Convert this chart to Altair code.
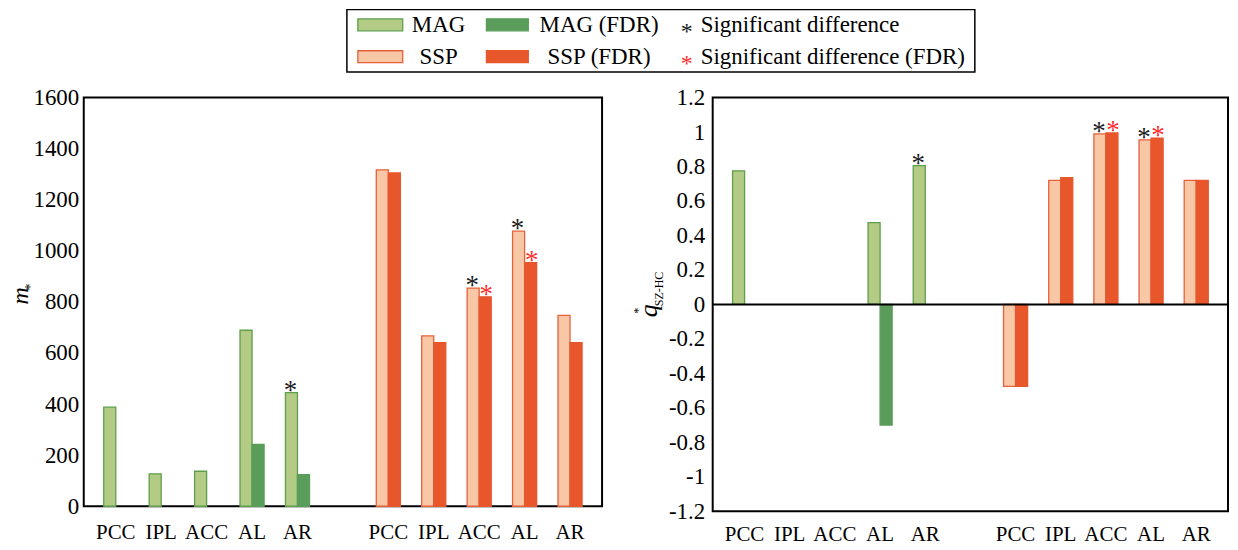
import altair as alt
import pandas as pd

# ---------------- data ----------------
cats = ["PCC", "IPL", "ACC", "AL", "AR"]

# left panel: m*
m_mag = [388, 127, 137, 689, 445]
m_mag_fdr = [0, 0, 0, 242, 124]
m_ssp = [1317, 667, 854, 1077, 747]
m_ssp_fdr = [1305, 641, 820, 954, 641]
m_sig_mag = [0, 0, 0, 0, 1]
m_sig_ssp = [0, 0, 1, 1, 0]
m_fdr_mag = [0, 0, 0, 0, 0]
m_fdr_ssp = [0, 0, 1, 1, 0]

# right panel: q*_SZ-HC
q_mag = [0.775, 0, 0, 0.475, 0.805]
q_mag_fdr = [0, 0, 0, -0.70, 0]
q_ssp = [-0.475, 0.72, 0.99, 0.955, 0.72]
q_ssp_fdr = [-0.475, 0.735, 0.995, 0.965, 0.72]
q_sig_mag = [0, 0, 0, 0, 1]
q_sig_ssp = [0, 0, 1, 1, 0]
q_fdr_mag = [0, 0, 0, 0, 0]
q_fdr_ssp = [0, 0, 1, 1, 0]

left_ticks = [0, 200, 400, 600, 800, 1000, 1200, 1400, 1600]
right_ticks = [-1.2, -1.0, -0.8, -0.6, -0.4, -0.2, 0.0, 0.2, 0.4, 0.6, 0.8, 1.0, 1.2]

legend_series = ["MAG", "SSP"]
legend_fdr = ["MAG (FDR)", "SSP  (FDR)"]
legend_sig = ["Significant difference", "Significant difference (FDR)"]

# ---------------- style ----------------
FONT = "Liberation Serif"
MAG_FILL, MAG_EDGE, MAG_DARK = "#b3cb85", "#5d9f4c", "#5a9d5a"
SSP_FILL, SSP_EDGE, SSP_DARK = "#f7c7a6", "#e8603a", "#e8572c"
BLACK, RED = "#1a1a1a", "#ff2e2e"

series_domain = ["MAG", "MAG (FDR)", "SSP", "SSP (FDR)"]
fill_range = [MAG_FILL, MAG_DARK, SSP_FILL, SSP_DARK]
stroke_range = [MAG_EDGE, MAG_DARK, SSP_EDGE, SSP_DARK]

GAP = " "
x_domain = cats + [GAP] + [c + " " for c in cats]

LW, LH = 520, 410
RW, RH = 517, 415
HSPACE = 111


def build(mag, mag_fdr, ssp, ssp_fdr, sig_mag, sig_ssp, fdr_mag, fdr_ssp):
    bars, stars = [], []
    groups = [("MAG", "", mag, mag_fdr, sig_mag, fdr_mag),
              ("SSP", " ", ssp, ssp_fdr, sig_ssp, fdr_ssp)]
    for name, suffix, base, fdr, sig, sigf in groups:
        for i, c in enumerate(cats):
            key = c + suffix
            if base[i] != 0:
                bars.append({"key": key, "kind": "base", "series": name, "value": base[i]})
            if fdr[i] != 0:
                bars.append({"key": key, "kind": "FDR", "series": name + " (FDR)", "value": fdr[i]})
            if sig[i]:
                stars.append({"key": key, "kind": "base", "value": base[i], "col": BLACK})
            if sigf[i]:
                stars.append({"key": key, "kind": "FDR", "value": fdr[i], "col": RED})
    return pd.DataFrame(bars), pd.DataFrame(stars)


def encodings(domain, ticks, xpad, ypad):
    x = alt.X("key:N",
              scale=alt.Scale(domain=x_domain, paddingInner=0.47, paddingOuter=0.44),
              axis=alt.Axis(title=None, labelAngle=0, labelFontSize=21, labelPadding=xpad,
                            ticks=False, domain=False, labelFont=FONT, labelColor="black"))
    xo = alt.XOffset("kind:N", scale=alt.Scale(domain=["base", "FDR"], paddingInner=0, paddingOuter=0))
    y = alt.Y("value:Q",
              scale=alt.Scale(domain=domain, nice=False, zero=True),
              axis=alt.Axis(title=None, values=ticks, labelExpr="datum.value + ''",
                            labelFontSize=23, labelPadding=ypad, ticks=False, domain=False,
                            grid=False, labelFont=FONT, labelColor="black",
                            labelOverlap=False, labelBound=False, labelSeparation=0))
    return x, xo, y


def panel(bars, stars, domain, ticks, xpad, ypad, zero_line=False):
    x, xo, y = encodings(domain, ticks, xpad, ypad)
    layers = [alt.Chart(bars).mark_bar(strokeWidth=1.3).encode(
        x=x, xOffset=xo, y=y,
        fill=alt.Fill("series:N", scale=alt.Scale(domain=series_domain, range=fill_range), legend=None),
        stroke=alt.Stroke("series:N", scale=alt.Scale(domain=series_domain, range=stroke_range), legend=None),
    )]
    if zero_line:
        layers.append(alt.Chart(pd.DataFrame({"value": [0]})).mark_rule(color="black", strokeWidth=2).encode(y=y))
    for kind, shift in (("base", -1), ("FDR", 1)):
        layers.append(
            alt.Chart(stars).transform_filter(alt.datum.kind == kind)
            .mark_text(text="*", fontSize=27, baseline="alphabetic", dy=6, dx=shift, font=FONT)
            .encode(x=x, xOffset=xo, y=y, color=alt.Color("col:N", scale=None))
        )
    return layers


dummy = pd.DataFrame({"d": [0]})


def label(txt, px, py, size, italic=False):
    return alt.Chart(dummy).mark_text(
        text=txt, fontSize=size, font=FONT, angle=270, align="center", baseline="middle",
        fontStyle="italic" if italic else "normal", color="black"
    ).encode(x=alt.value(px), y=alt.value(py))


# ---------------- left panel ----------------
lb, ls = build(m_mag, m_mag_fdr, m_ssp, m_ssp_fdr, m_sig_mag, m_sig_ssp, m_fdr_mag, m_fdr_ssp)
left = alt.layer(
    *panel(lb, ls, [0, 1600], left_ticks, 15, 5),
    label("m", -63, 199, 24, italic=True),
    label("*", -53, 190, 14),
).properties(width=LW, height=LH, view=alt.ViewBackground(stroke="black", strokeWidth=2))

# ---------------- right panel ----------------
rb, rs = build(q_mag, q_mag_fdr, q_ssp, q_ssp_fdr, q_sig_mag, q_sig_ssp, q_fdr_mag, q_fdr_ssp)
right = alt.layer(
    *panel(rb, rs, [-1.2, 1.2], right_ticks, 12, 8, zero_line=True),
    label("q", -64, 214, 26, italic=True),
    label("SZ-HC", -54, 192, 12),
    label("*", -75, 214, 12),
).properties(width=RW, height=RH, view=alt.ViewBackground(stroke="black", strokeWidth=2))

# ---------------- legend ----------------
LEG_W = LW + HSPACE + RW
LEG_H = 64
row_y = [16, 48]
sw_rows, txt_rows, star_rows = [], [], []
light = [(MAG_FILL, MAG_EDGE), (SSP_FILL, SSP_EDGE)]
dark = [MAG_DARK, SSP_DARK]
star_cols = [BLACK, RED]
for r in range(2):
    yc = row_y[r]
    sw_rows.append({"x": 275, "x2": 320, "y": yc - 6, "y2": yc + 6, "f": light[r][0], "s": light[r][1]})
    sw_rows.append({"x": 404, "x2": 446, "y": yc - 6, "y2": yc + 6, "f": dark[r], "s": dark[r]})
    txt_rows.append({"x": 356, "y": yc, "t": legend_series[r], "a": "center"})
    txt_rows.append({"x": 517, "y": yc, "t": legend_fdr[r], "a": "center"})
    txt_rows.append({"x": 619, "y": yc, "t": legend_sig[r], "a": "left"})
    star_rows.append({"x": 605, "y": yc, "c": star_cols[r]})

box = alt.Chart(dummy).mark_rect(fill="white", stroke="black", strokeWidth=1.5).encode(
    x=alt.value(264), x2=alt.value(894), y=alt.value(0.75), y2=alt.value(LEG_H - 0.75))
sw = alt.Chart(pd.DataFrame(sw_rows)).mark_rect(strokeWidth=1.3).encode(
    x=alt.X("x:Q", scale=None, axis=None), x2="x2:Q",
    y=alt.Y("y:Q", scale=None, axis=None), y2="y2:Q",
    fill=alt.Fill("f:N", scale=None), stroke=alt.Stroke("s:N", scale=None))
ltxt_c = alt.Chart(pd.DataFrame([t for t in txt_rows if t["a"] == "center"])).mark_text(
    fontSize=23, font=FONT, align="center", baseline="middle", color="black").encode(
    x=alt.X("x:Q", scale=None, axis=None), y=alt.Y("y:Q", scale=None, axis=None), text="t:N")
ltxt_l = alt.Chart(pd.DataFrame([t for t in txt_rows if t["a"] == "left"])).mark_text(
    fontSize=23, font=FONT, align="left", baseline="middle", color="black").encode(
    x=alt.X("x:Q", scale=None, axis=None), y=alt.Y("y:Q", scale=None, axis=None), text="t:N")
lstars = alt.Chart(pd.DataFrame(star_rows)).mark_text(
    text="*", fontSize=24, font=FONT, align="center", baseline="middle", dy=7).encode(
    x=alt.X("x:Q", scale=None, axis=None), y=alt.Y("y:Q", scale=None, axis=None),
    color=alt.Color("c:N", scale=None))
legend = alt.layer(box, sw, ltxt_c, ltxt_l, lstars).properties(
    width=LEG_W, height=LEG_H, view=alt.ViewBackground(strokeWidth=0))

chart = alt.vconcat(
    legend,
    alt.hconcat(left, right, spacing=HSPACE, bounds="flush"),
    spacing=25, bounds="flush",
).properties(padding=0).configure(font=FONT).configure_view(
    stroke="black", strokeWidth=2
).configure_axis(labelOverlap=False)

chart.save("out.html", embed_options={"renderer": "svg", "actions": False})
